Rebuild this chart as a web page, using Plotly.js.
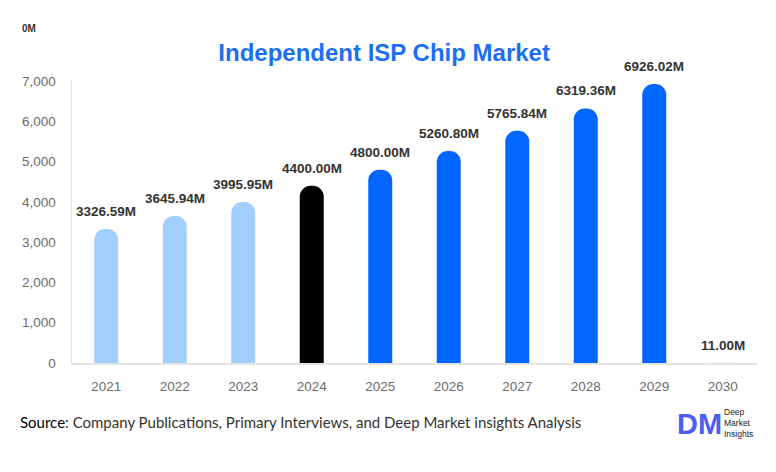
<!DOCTYPE html>
<html>
<head>
<meta charset="utf-8">
<script src="https://cdn.plot.ly/plotly-3.0.1.min.js"></script>
<style>html,body{margin:0;padding:0;background:#fff}#chart{width:776px;height:472px}</style>
</head>
<body>
<div id="chart"></div>
<script>
const years = ["2021","2022","2023","2024","2025","2026","2027","2028","2029","2030"];
const values = [3326.59, 3645.94, 3995.95, 4400.00, 4800.00, 5260.80, 5765.84, 6319.36, 6926.02, 11.00];
const labels = ["3326.59M","3645.94M","3995.95M","4400.00M","4800.00M","5260.80M","5765.84M","6319.36M","6926.02M","11.00M"];
const barColors = ["#a2cffd","#a2cffd","#a2cffd","#000000","#0066ff","#0066ff","#0066ff","#0066ff","#0066ff","#cfe0f7"];
const yTicks = [0,1000,2000,3000,4000,5000,6000,7000];

const W = 776, H = 472, ML = 72, MR = 19, MT = 81, MB = 109;
const PW = W - ML - MR, PH = H - MT - MB;
const px = v => (v - ML) / PW;
const py = v => (H - MB - v) / PH;

const trace = {
  type: "bar",
  x: years,
  y: values,
  width: 0.35,
  marker: {color: barColors, cornerradius: 12, line: {width: 0}},
  hoverinfo: "skip"
};

const annotations = years.map((yr, i) => ({
  x: i, y: values[i], xref: "x", yref: "y",
  text: labels[i], showarrow: false, yanchor: "bottom", yshift: 8,
  font: {family: "Liberation Sans, Arial, sans-serif", size: 13.5, color: "#333333", weight: "bold"}
}));

annotations.push({
  xref: "paper", yref: "paper", x: px(20), y: py(29),
  xanchor: "left", yanchor: "middle",
  text: "0M", showarrow: false,
  font: {family: "Liberation Sans, Arial, sans-serif", size: 10, color: "#333", weight: "bold"}
});
annotations.push({
  xref: "paper", yref: "paper", x: px(18), y: py(422),
  xanchor: "left", yanchor: "middle", showarrow: false,
  text: "<span style='color:#000'>Source</span>: Company Publications, Primary Interviews, and Deep Market insights Analysis",
  font: {family: "Lato, Open Sans, sans-serif", size: 15, color: "#333"}
});
annotations.push({
  xref: "paper", yref: "paper", x: px(675), y: py(424),
  xanchor: "left", yanchor: "middle", showarrow: false,
  text: "DM",
  font: {family: "Liberation Sans, Arial, sans-serif", size: 29, color: "#4a5ef2", weight: "bold"}
});
annotations.push({
  xref: "paper", yref: "paper", x: px(722), y: py(423),
  xanchor: "left", yanchor: "middle", showarrow: false, align: "left",
  text: "Deep<br>Market<br>Insights",
  font: {family: "Liberation Sans, Arial, sans-serif", size: 8.5, color: "#222"}
});

const layout = {
  width: W, height: H,
  margin: {l: ML, r: MR, t: MT, b: MB},
  paper_bgcolor: "#fff", plot_bgcolor: "#fff",
  showlegend: false,
  title: {
    text: "Independent ISP Chip Market",
    x: 0.495, xref: "container", y: 1 - 53/472, yref: "container", yanchor: "middle",
    font: {family: "Liberation Sans, Arial, sans-serif", size: 24, color: "#1a6ff5", weight: "bold"}
  },
  xaxis: {
    type: "category",
    range: [-0.5, years.length - 0.5],
    showline: true, linecolor: "#e3e3e3", linewidth: 1.5,
    showgrid: false, zeroline: false, ticks: "",
    ticklabelstandoff: 10,
    tickfont: {family: "Liberation Sans, Arial, sans-serif", size: 13.5, color: "#6b6b6b"}
  },
  yaxis: {
    range: [0, 7000],
    tickvals: yTicks,
    tickformat: ",d",
    showline: true, linecolor: "#e3e3e3", linewidth: 1.5,
    showgrid: false, zeroline: false, ticks: "",
    ticklabelstandoff: 12,
    tickfont: {family: "Liberation Sans, Arial, sans-serif", size: 13.5, color: "#6b6b6b"}
  },
  annotations: annotations
};

Plotly.newPlot("chart", [trace], layout, {displayModeBar: false, staticPlot: true});
</script>
</body>
</html>
